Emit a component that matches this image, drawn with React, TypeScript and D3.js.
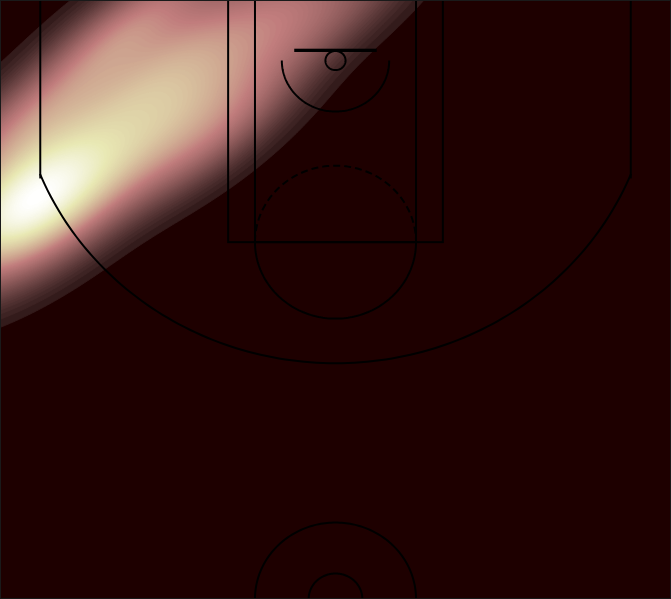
import { useMemo } from 'react'
import * as d3 from 'd3'

// shot locations, court units (tenths of a foot, hoop at 0,0, baseline at -47.5)
const shotX = [-245, -248, -232, -249, -227, -246, -238, -197, -240, -203, -238, -199, -208, -173, -180, -190, -145, -155, -165, -114, -131, -100, -64, -82, -45, -28, 5, -238, -225, -138, -120, -125, -85, -110, -164]
const shotY = [127, 92, 145, 102, 117, 66, 118, 134, 112, 108, 47, 87, 56, 99, 62, 20, 68, 27, -15, 35, -8, 1, 19, -35, -24, -53, -40, 101, 129, 23, 40, -47, 55, 70, -22]

// court geometry (same units)
const xDomain = [-250, 250]
const yDomain = [-47.5, 422.5]
const W = 671
const H = 599

// matplotlib 'pink' colormap
function pink(t: number) {
  const i = Math.max(0, Math.min(1, t)) * 63
  const r = Math.min(1, (i + 1) / 24)
  const g = Math.max(0, Math.min(1, (i - 23) / 24))
  const b = Math.max(0, Math.min(1, (i - 47) / 16))
  const gray = i / 63
  const c = (h: number) => Math.round(255 * Math.sqrt((2 * gray + h) / 3))
  return `rgb(${c(r)},${c(g)},${c(b)})`
}

export default function App() {
  const x = d3.scaleLinear().domain(xDomain).range([0, W])
  const y = d3.scaleLinear().domain(yDomain).range([0, H])

  // gaussian kde, scott's rule with full covariance (like scipy / seaborn)
  const { contours, nLevels } = useMemo(() => {
    const n = shotX.length
    const mx = d3.mean(shotX)!
    const my = d3.mean(shotY)!
    let sxx = 0, syy = 0, sxy = 0
    for (let i = 0; i < n; i++) {
      const dx = shotX[i] - mx, dy = shotY[i] - my
      sxx += dx * dx; syy += dy * dy; sxy += dx * dy
    }
    const f2 = Math.pow(n, -1 / 3) / (n - 1)
    const a = sxx * f2, b = sxy * f2, c = syy * f2
    const det = a * c - b * b

    const cell = 2
    const gw = Math.ceil(W / cell)
    const gh = Math.ceil(H / cell)
    const values = new Float64Array(gw * gh)
    for (let j = 0; j < gh; j++) {
      const cy = y.invert((j + 0.5) * cell)
      for (let i = 0; i < gw; i++) {
        const cx = x.invert((i + 0.5) * cell)
        let s = 0
        for (let k = 0; k < n; k++) {
          const dx = cx - shotX[k], dy = cy - shotY[k]
          s += Math.exp(-0.5 * (c * dx * dx - 2 * b * dx * dy + a * dy * dy) / det)
        }
        values[j * gw + i] = s
      }
    }
    const max = d3.max(values)!
    const nLevels = 90
    const levels = d3.range(1, nLevels).map(k => (k / nLevels) * max)
    const contours = d3.contours().size([gw, gh]).thresholds(levels)(Array.from(values))
    return { contours: contours.map(ct => ({ ct, t: ct.value / max })), nLevels }
  }, [])

  const path = d3.geoPath()
  const arc = (cx: number, cy: number, r: number, t0: number, t1: number) =>
    d3.line()(d3.range(0, 121).map(k => {
      const t = ((t0 + ((t1 - t0) * k) / 120) * Math.PI) / 180
      return [x(cx + r * Math.cos(t)), y(cy + r * Math.sin(t))] as [number, number]
    }))

  const line = { fill: 'none', stroke: '#000', strokeWidth: 2 }

  return (
    <svg width={W} height={H} style={{ position: 'absolute', left: 0, top: 0 }}>
      <rect width={W} height={H} fill={pink(0)} />
      <g transform="scale(2)">
        {contours.map(({ ct, t }, i) => {
          const col = pink(t + 0.5 / nLevels)
          return <path key={i} d={path(ct) ?? ''} fill={col} stroke={col} strokeWidth={0.4} />
        })}
      </g>

      {/* court */}
      <path d={arc(0, 0, 7.5, 0, 360) ?? ''} {...line} />
      <rect x={x(-30)} y={y(-8.5)} width={x(30) - x(-30)} height={y(-7.5) - y(-8.5)} {...line} />
      <rect x={x(-80)} y={y(-47.5)} width={x(80) - x(-80)} height={y(142.5) - y(-47.5)} {...line} />
      <rect x={x(-60)} y={y(-47.5)} width={x(60) - x(-60)} height={y(142.5) - y(-47.5)} {...line} />
      <path d={arc(0, 142.5, 60, 0, 180) ?? ''} {...line} />
      <path d={arc(0, 142.5, 60, 180, 360) ?? ''} {...line} strokeDasharray="7,4" />
      <path d={arc(0, 0, 40, 0, 180) ?? ''} {...line} />
      <line x1={x(-220)} x2={x(-220)} y1={y(-47.5)} y2={y(92.5)} {...line} />
      <line x1={x(220)} x2={x(220)} y1={y(-47.5)} y2={y(92.5)} {...line} />
      <path d={arc(0, 0, 237.5, 22, 158) ?? ''} {...line} />
      <path d={arc(0, 422.5, 60, 180, 360) ?? ''} {...line} />
      <path d={arc(0, 422.5, 20, 180, 360) ?? ''} {...line} />

      <rect x={0.5} y={0.5} width={W - 1} height={H - 1} fill="none" stroke="#1a1a1a" />
    </svg>
  )
}
